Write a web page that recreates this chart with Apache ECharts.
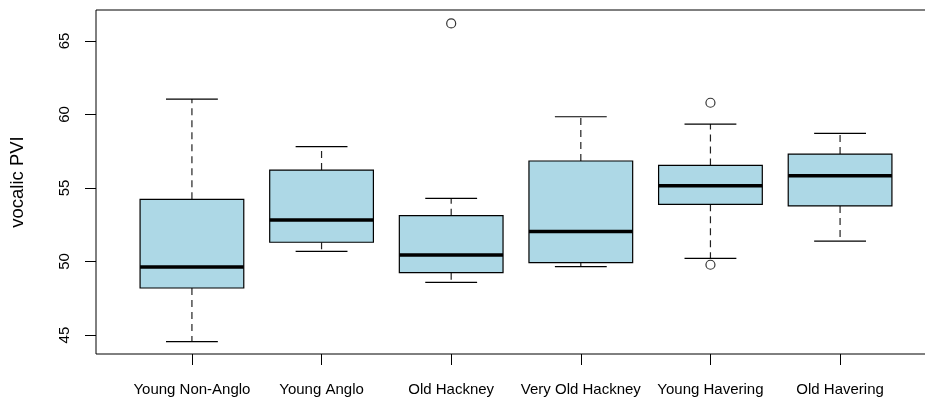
<!DOCTYPE html>
<html>
<head>
<meta charset="utf-8">
<script src="https://cdn.jsdelivr.net/npm/echarts@6/dist/echarts.min.js"></script>
<style>
html,body{margin:0;padding:0;background:#fff;}
#chart{width:925px;height:401px;}
</style>
</head>
<body>
<div id="chart"></div>
<script>
const categories = ['Young Non-Anglo','Young Anglo','Old Hackney','Very Old Hackney','Young Havering','Old Havering'];
const lowerWhisker = [44.55, 50.69, 48.58, 49.65, 50.22, 51.39];
const q1Values     = [48.20, 51.31, 49.24, 49.92, 53.89, 53.78];
const medianValues = [49.63, 52.82, 50.44, 52.05, 55.16, 55.84];
const q3Values     = [54.23, 56.22, 53.12, 56.84, 56.54, 57.31];
const upperWhisker = [61.05, 57.81, 54.30, 59.85, 59.35, 58.72];
const outlierGroup = [3, 5, 5];
const outlierValue = [66.20, 60.80, 49.78];
const yTicks = [45, 50, 55, 60, 65];
const xTicks = [1, 2, 3, 4, 5, 6];

const boxData = categories.map((c, i) => [i + 1, lowerWhisker[i], q1Values[i], medianValues[i], q3Values[i], upperWhisker[i]]);
const outlierData = outlierGroup.map((g, i) => [g, outlierValue[i]]);

const FONT = 'Liberation Sans, Arial, Helvetica, sans-serif';

const chart = echarts.init(document.getElementById('chart'), null, {renderer: 'canvas'});
chart.setOption({
  animation: false,
  backgroundColor: '#ffffff',
  grid: {
    left: 96, top: 10, width: 840, height: 344,
    show: true, borderColor: '#000', borderWidth: 1, backgroundColor: 'transparent',
    outerBoundsMode: 'none', containLabel: false
  },
  xAxis: {
    type: 'value', min: 0.26, max: 6.74,
    axisLine: {show: false},
    splitLine: {show: false},
    axisTick: {show: true, customValues: xTicks, length: 11, lineStyle: {color: '#000', width: 1}},
    axisLabel: {
      customValues: xTicks, margin: 28, fontSize: 15, color: '#000', fontFamily: FONT,
      formatter: v => categories[Math.round(v) - 1]
    }
  },
  yAxis: {
    type: 'value', min: 43.71, max: 67.11,
    axisLine: {show: false},
    splitLine: {show: false},
    axisTick: {show: true, customValues: yTicks, length: 11, lineStyle: {color: '#000', width: 1}},
    axisLabel: {customValues: yTicks, rotate: 90, margin: 24, fontSize: 15, color: '#000', fontFamily: FONT},
    name: 'vocalic PVI', nameLocation: 'middle', nameRotate: 90, nameGap: 69,
    nameTextStyle: {fontSize: 18.5, color: '#000', fontFamily: FONT}
  },
  series: [
    {
      type: 'custom',
      data: boxData,
      encode: {x: 0, y: [1, 2, 3, 4, 5]},
      renderItem: function (params, api) {
        const x = api.value(0);
        const pLo = api.coord([x, api.value(1)]);
        const pQ1 = api.coord([x, api.value(2)]);
        const pMed = api.coord([x, api.value(3)]);
        const pQ3 = api.coord([x, api.value(4)]);
        const pHi = api.coord([x, api.value(5)]);
        const bw = api.size([0.8, 0])[0];
        const cw = bw / 2;
        const cx = pMed[0];
        const dash = {stroke: '#222', lineWidth: 1.2, lineDash: [7, 5]};
        const solid = {stroke: '#000', lineWidth: 1.2};
        return {
          type: 'group',
          children: [
            {type: 'line', shape: {x1: cx, y1: pQ3[1], x2: cx, y2: pHi[1]}, style: dash},
            {type: 'line', shape: {x1: cx, y1: pQ1[1], x2: cx, y2: pLo[1]}, style: dash},
            {type: 'line', shape: {x1: cx - cw / 2, y1: pHi[1], x2: cx + cw / 2, y2: pHi[1]}, style: solid},
            {type: 'line', shape: {x1: cx - cw / 2, y1: pLo[1], x2: cx + cw / 2, y2: pLo[1]}, style: solid},
            {type: 'rect', shape: {x: cx - bw / 2, y: pQ3[1], width: bw, height: pQ1[1] - pQ3[1]},
              style: {fill: '#ADD8E6', stroke: '#000', lineWidth: 1.2}},
            {type: 'line', shape: {x1: cx - bw / 2, y1: pMed[1], x2: cx + bw / 2, y2: pMed[1]},
              style: {stroke: '#000', lineWidth: 3.5}}
          ]
        };
      }
    },
    {
      type: 'scatter',
      data: outlierData,
      symbol: 'circle',
      symbolSize: 9,
      itemStyle: {color: 'rgba(0,0,0,0)', borderColor: '#000', borderWidth: 1.2}
    }
  ]
});
</script>
</body>
</html>
